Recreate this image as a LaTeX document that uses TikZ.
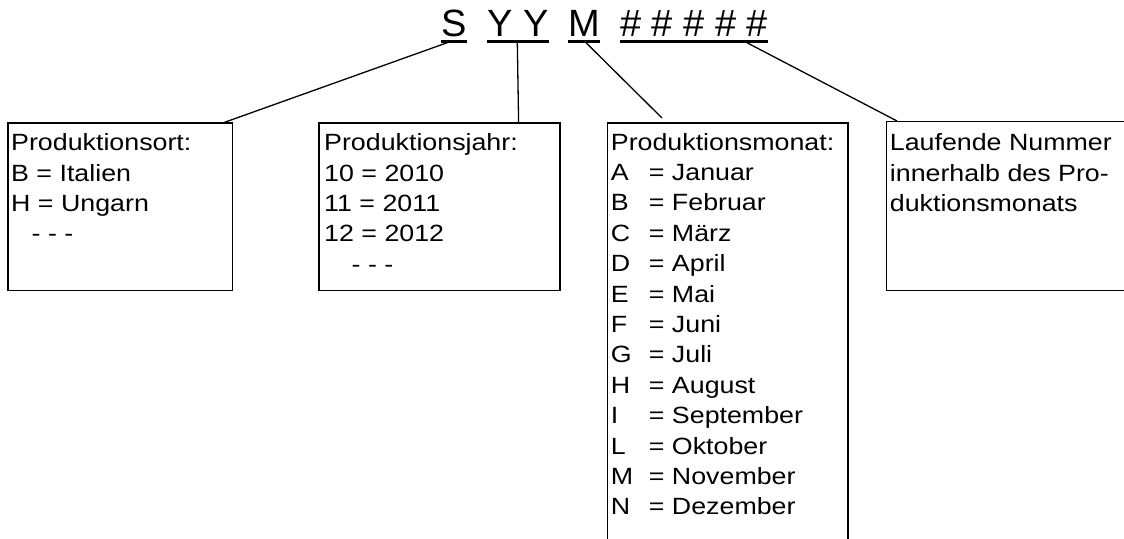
\documentclass[tikz,border=0pt]{standalone}
\usepackage{fontspec}
\setmainfont{Liberation Sans}
\newfontfamily\titlefont{Liberation Sans}
\newfontfamily\boxfont[FakeStretch=1.14]{Liberation Sans}
\newcommand{\bxf}{\boxfont\fontsize{23.5}{30.4}\selectfont}
\newcommand{\mrow}[2]{\makebox[38pt][l]{#1}= #2}
\begin{document}
\begin{tikzpicture}[x=1pt,y=-1pt,
  box/.style={draw,line width=1.3pt,rectangle,inner sep=0pt,anchor=north west},
  ttl/.style={inner sep=0pt,anchor=base west,font=\titlefont\fontsize{38}{40}\selectfont},
  btxt/.style={inner sep=0pt,anchor=base west,font=\bxf},
  conn/.style={line width=1.3pt},
  uline/.style={line width=2.7pt}]
\useasboundingbox (0,0) rectangle (1124,538);

% title groups
\node[ttl] (S) at (441.3,36) {S};
\node[ttl] (YY) at (487.3,36) {Y Y};
\node[ttl] (M) at (568.3,36) {M};
\node[ttl] (H) at (620,36) {\# \# \# \# \#};
\foreach \n in {S,YY,M,H}{
  \draw[uline] ([yshift=-5.7pt]\n.base west) -- ([yshift=-5.7pt]\n.base east);
}
\coordinate (uS) at (450,41.7);
\coordinate (uY) at (517.3,41.7);
\coordinate (uM) at (585,41.7);
\coordinate (uH) at (745,41.7);

% boxes
\node[box,minimum width=224.4pt,minimum height=167.7pt] (b1) at (7.3,122.3) {};
\node[box,minimum width=241pt,minimum height=167.7pt] (b2) at (318.3,122.3) {};
\node[box,minimum width=240.6pt,minimum height=430pt] (b3) at (606.7,122.3) {};
\node[box,minimum width=250pt,minimum height=169pt] (b4) at (886,121) {};

% texts
\node[btxt] (t1) at (11,150.7) {\begin{tabular}[t]{@{}l@{}}
Produktionsort:\\
B = Italien\\
H = Ungarn\\
\hspace{20.5pt}- - -
\end{tabular}};
\node[btxt] (t2) at (324,150.7) {\begin{tabular}[t]{@{}l@{}}
Produktionsjahr:\\
10 = 2010\\
11 = 2011\\
12 = 2012\\
\hspace{27.5pt}- - -
\end{tabular}};
\node[btxt] (t3) at (610.7,150) {\begin{tabular}[t]{@{}l@{}}
Produktionsmonat:\\
\mrow{A}{Januar}\\
\mrow{B}{Februar}\\
\mrow{C}{März}\\
\mrow{D}{April}\\
\mrow{E}{Mai}\\
\mrow{F}{Juni}\\
\mrow{G}{Juli}\\
\mrow{H}{August}\\
\mrow{I}{September}\\
\mrow{L}{Oktober}\\
\mrow{M}{November}\\
\mrow{N}{Dezember}
\end{tabular}};
\node[btxt] (t4) at (889.7,150.7) {\begin{tabular}[t]{@{}l@{}}
Laufende Nummer\\
innerhalb des Pro-\\
duktionsmonats
\end{tabular}};

% connectors
\draw[conn] (uS) -- ([xshift=-8.4pt]b1.north east);
\draw[conn] (uY) -- ([xshift=-42pt]b2.north east);
\draw[conn] (uM) -- ([xshift=55.3pt,yshift=4.3pt]b3.north west);
\draw[conn] (uH) -- ([xshift=11pt]b4.north west);
\end{tikzpicture}
\end{document}
